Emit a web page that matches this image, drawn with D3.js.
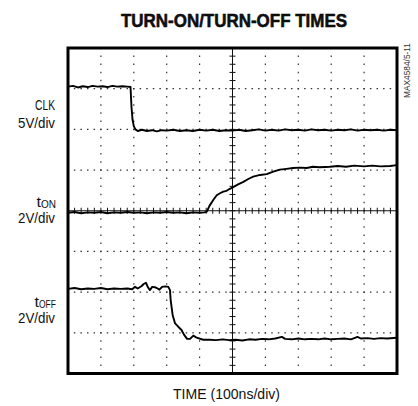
<!DOCTYPE html>
<html>
<head>
<meta charset="utf-8">
<script src="https://cdn.jsdelivr.net/npm/d3@7"></script>
<style>
  html, body { margin: 0; padding: 0; background: #fff; }
  svg { display: block; }
  text { font-family: "Liberation Sans Narrow", "Liberation Sans", Arial, sans-serif; fill: #111; }
</style>
</head>
<body>
<script>
// ---- Data (time in ns, level in screen divisions from bottom, 0..8) ----
const clkTime  = [0,15,30,45,60,75,90,105,120,135,150,165,180,190,193,196,200,205,212,225,240,255,270,285,300,320,340,360,380,400,420,440,460,480,500,520,540,560,580,600,620,640,660,680,700,720,740,760,780,800,820,840,860,880,900,920,940,960,980,1000];
const clkLevel = [7.05,7.07,7.03,7.06,7.04,7.07,7.05,7.06,7.04,7.07,7.05,7.06,7.05,7.04,6.55,6.25,6.08,6.00,5.96,5.99,5.96,5.98,5.95,5.98,5.97,5.99,5.96,5.98,5.96,5.99,5.97,5.99,5.96,5.98,5.97,5.99,5.96,5.98,6.00,5.97,5.99,5.97,6.00,5.98,5.99,5.97,6.00,5.98,5.99,5.97,5.99,5.98,6.00,5.97,5.99,5.98,5.99,5.97,5.99,5.98];

const tonTime  = [0,20,40,60,80,100,120,140,160,180,200,220,240,260,280,300,320,340,360,380,400,415,422,430,442,452,462,472,482,492,502,517,533,548,563,584,604,624,644,664,684,705,725,745,765,796,820,845,870,900,925,950,979,1000];
const tonLevel = [3.95,3.97,3.94,3.96,3.95,3.97,3.94,3.96,3.95,3.97,3.95,3.96,3.94,3.96,3.95,3.97,3.95,3.96,3.94,3.96,3.95,3.96,3.98,4.12,4.27,4.38,4.43,4.47,4.49,4.54,4.58,4.65,4.71,4.78,4.84,4.88,4.90,4.96,5.01,5.03,5.05,5.06,5.05,5.08,5.07,5.08,5.10,5.08,5.11,5.09,5.11,5.09,5.10,5.12];

const toffTime  = [0,20,40,60,80,100,120,140,160,180,195,204,212,224,230,237,243,249,256,264,270,278,286,295,305,310,312,318,325,335,345,353,362,371,381,391,411,430,450,470,490,510,530,550,570,590,610,630,650,660,680,700,720,740,760,780,800,820,840,860,880,890,910,930,950,970,1000];
const toffLevel = [2.08,2.10,2.07,2.09,2.08,2.10,2.07,2.09,2.08,2.09,2.07,2.13,2.09,2.15,2.20,2.23,2.12,2.05,2.13,2.12,2.10,2.06,2.13,2.14,2.13,2.05,1.81,1.44,1.24,1.15,1.07,0.95,0.85,0.85,0.93,0.88,0.83,0.83,0.82,0.84,0.82,0.83,0.81,0.84,0.83,0.85,0.84,0.86,0.90,0.85,0.84,0.86,0.84,0.85,0.84,0.86,0.84,0.85,0.86,0.84,0.90,0.86,0.87,0.85,0.87,0.86,0.88];

// grid definition (divisions)
const timeGrid  = [0,100,200,300,400,500,600,700,800,900,1000];
const levelGrid = [0,1,2,3,4,5,6,7,8];

const W = 418, H = 406;
const svg = d3.select("body").append("svg").attr("width", W).attr("height", H);

const x = d3.scaleLinear().domain([0, 1000]).range([68, 397]);
const y = d3.scaleLinear().domain([0, 8]).range([373.5, 48]);

// dotted grid
const xStep = x(20) - x(0);
const yStep = y(0) - y(0.2);
const g = svg.append("g");
levelGrid.filter(v => v > 0 && v < 8 && v !== 4).forEach(v => {
  g.append("line").attr("x1", x(0) - 0.75).attr("x2", x(1000)).attr("y1", y(v)).attr("y2", y(v))
    .attr("stroke", "#333").attr("stroke-width", 1.2)
    .attr("stroke-dasharray", `1.5 ${xStep - 1.5}`);
});
timeGrid.filter(v => v > 0 && v < 1000 && v !== 500).forEach(v => {
  g.append("line").attr("x1", x(v)).attr("x2", x(v)).attr("y1", y(8) - 0.75).attr("y2", y(0))
    .attr("stroke", "#333").attr("stroke-width", 1.2)
    .attr("stroke-dasharray", `1.5 ${yStep - 1.5}`);
});

// center crosshair with minor ticks
g.append("line").attr("x1", x(500)).attr("x2", x(500)).attr("y1", y(8)).attr("y2", y(0))
  .attr("stroke", "#111").attr("stroke-width", 1);
g.append("line").attr("x1", x(0)).attr("x2", x(1000)).attr("y1", y(4)).attr("y2", y(4))
  .attr("stroke", "#111").attr("stroke-width", 1);
d3.range(0, 8.001, 0.2).forEach(v => {
  g.append("line").attr("x1", x(500) - 3).attr("x2", x(500) + 3).attr("y1", y(v)).attr("y2", y(v))
    .attr("stroke", "#111").attr("stroke-width", 1);
});
d3.range(0, 1000.1, 20).forEach(v => {
  g.append("line").attr("x1", x(v)).attr("x2", x(v)).attr("y1", y(4) - 3).attr("y2", y(4) + 3)
    .attr("stroke", "#111").attr("stroke-width", 1);
});

// traces
const line = d3.line().x(d => x(d[0])).y(d => y(d[1]));
[[clkTime, clkLevel], [tonTime, tonLevel], [toffTime, toffLevel]].forEach(([t, v]) => {
  svg.append("path").datum(t.map((tt, i) => [tt, v[i]]))
    .attr("d", line).attr("fill", "none").attr("stroke", "#000")
    .attr("stroke-width", 1.9).attr("stroke-linejoin", "round");
});

// frame
svg.append("rect").attr("x", x(0)).attr("y", y(8)).attr("width", x(1000) - x(0)).attr("height", y(0) - y(8))
  .attr("fill", "none").attr("stroke", "#000").attr("stroke-width", 3);

// title
svg.append("text").attr("x", 234).attr("y", 27).attr("text-anchor", "middle")
  .style("font-family", "'Liberation Sans', Arial, sans-serif")
  .style("font-weight", "bold").style("font-size", "17.5px")
  .attr("stroke", "#000").attr("stroke-width", 0.5)
  .attr("textLength", 226).attr("lengthAdjust", "spacingAndGlyphs")
  .text("TURN-ON/TURN-OFF TIMES");

// left labels
function label(txt, xr, yb, len) {
  svg.append("text").attr("x", xr - len).attr("y", yb)
    .style("font-size", "15.5px")
    .attr("textLength", len).attr("lengthAdjust", "spacingAndGlyphs")
    .text(txt);
}
label("CLK", 55, 109.5, 20);
label("5V/div", 55, 127.5, 37);

function subLabel(main, sub, xr, yb, lenMain, lenSub) {
  svg.append("text").attr("x", xr - lenSub - lenMain).attr("y", yb)
    .style("font-size", "15.5px")
    .attr("textLength", lenMain).attr("lengthAdjust", "spacingAndGlyphs").text(main);
  svg.append("text").attr("x", xr - lenSub).attr("y", yb + 1.5)
    .style("font-size", "10.5px")
    .attr("textLength", lenSub).attr("lengthAdjust", "spacingAndGlyphs").text(sub);
}
subLabel("t", "ON", 56, 206.5, 4.5, 15);
label("2V/div", 55, 223, 37);
subLabel("t", "OFF", 56, 306.5, 4.5, 17);
label("2V/div", 55, 323, 37);

// x axis title
svg.append("text").attr("x", 173).attr("y", 398.5)
  .style("font-size", "15px")
  .attr("textLength", 107).attr("lengthAdjust", "spacingAndGlyphs")
  .text("TIME (100ns/div)");

// figure id
svg.append("text").attr("transform", "translate(409.5,70.5) rotate(-90)")
  .attr("text-anchor", "middle").style("font-size", "9px").style("fill", "#333")
  .attr("textLength", 55).attr("lengthAdjust", "spacingAndGlyphs")
  .text("MAX4584/5-11");
</script>
</body>
</html>
